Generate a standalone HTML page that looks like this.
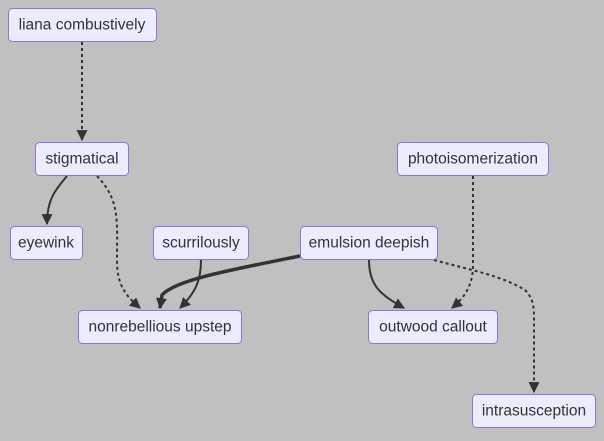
<!DOCTYPE html>
<html><head><style>
body{margin:0;background:#c0c0c0;width:604px;height:436px;overflow:hidden}
svg text{font-family:"Liberation Sans",sans-serif;font-size:15.5px;fill:#333;text-anchor:middle;dominant-baseline:central}
.n{fill:#ececff;stroke:#9370db;stroke-width:1}
.e{fill:none;stroke:#333;stroke-width:2}
.d{fill:none;stroke:#333;stroke-width:2;stroke-dasharray:3 3}
</style></head><body>
<svg width="604" height="436" xmlns="http://www.w3.org/2000/svg">
<defs><marker id="a" viewBox="0 0 10 10" refX="9" refY="5" markerWidth="11" markerHeight="11" orient="auto-start-reverse" markerUnits="userSpaceOnUse"><path d="M0,0L10,5L0,10z" fill="#333"/></marker></defs>
<path class="d" d="M82,42V140" marker-end="url(#a)"/>
<path class="e" d="M67,176C55,190 47,200 47,224" marker-end="url(#a)"/>
<path class="d" d="M97,176C120,200 117,220 117,260C117,285 125,295 140,308" marker-end="url(#a)"/>
<path class="e" d="M201,260C201,280 196,292 180,308" marker-end="url(#a)"/>
<path class="e" style="stroke-width:3.5" d="M300,256C230,270 175,280 162,295L160,308" marker-end="url(#a)"/>
<path class="e" d="M369,260C369,285 380,295 404,308" marker-end="url(#a)"/>
<path class="d" d="M473,176V265C473,285 465,297 452,308" marker-end="url(#a)"/>
<path class="d" d="M434,260C470,270 500,275 525,290C535,300 534,310 534,330V392" marker-end="url(#a)"/>
<rect class="n" x="8.5" y="8.5" width="148" height="33" rx="4"/><text x="82" y="25">liana combustively</text>
<rect class="n" x="35.5" y="142.5" width="93" height="33" rx="4"/><text x="82" y="159">stigmatical</text>
<rect class="n" x="10.5" y="226.5" width="72" height="33" rx="4"/><text x="46" y="243">eyewink</text>
<rect class="n" x="153.5" y="226.5" width="95" height="33" rx="4"/><text x="201" y="243">scurrilously</text>
<rect class="n" x="300.5" y="226.5" width="137" height="33" rx="4"/><text x="369" y="243">emulsion deepish</text>
<rect class="n" x="397.5" y="142.5" width="151" height="33" rx="4"/><text x="473" y="159">photoisomerization</text>
<rect class="n" x="78.5" y="310.5" width="163" height="33" rx="4"/><text x="160" y="327">nonrebellious upstep</text>
<rect class="n" x="368.5" y="310.5" width="129" height="33" rx="4"/><text x="433" y="327">outwood callout</text>
<rect class="n" x="472.5" y="394.5" width="123" height="33" rx="4"/><text x="534" y="411">intrasusception</text>
</svg>
</body></html>
